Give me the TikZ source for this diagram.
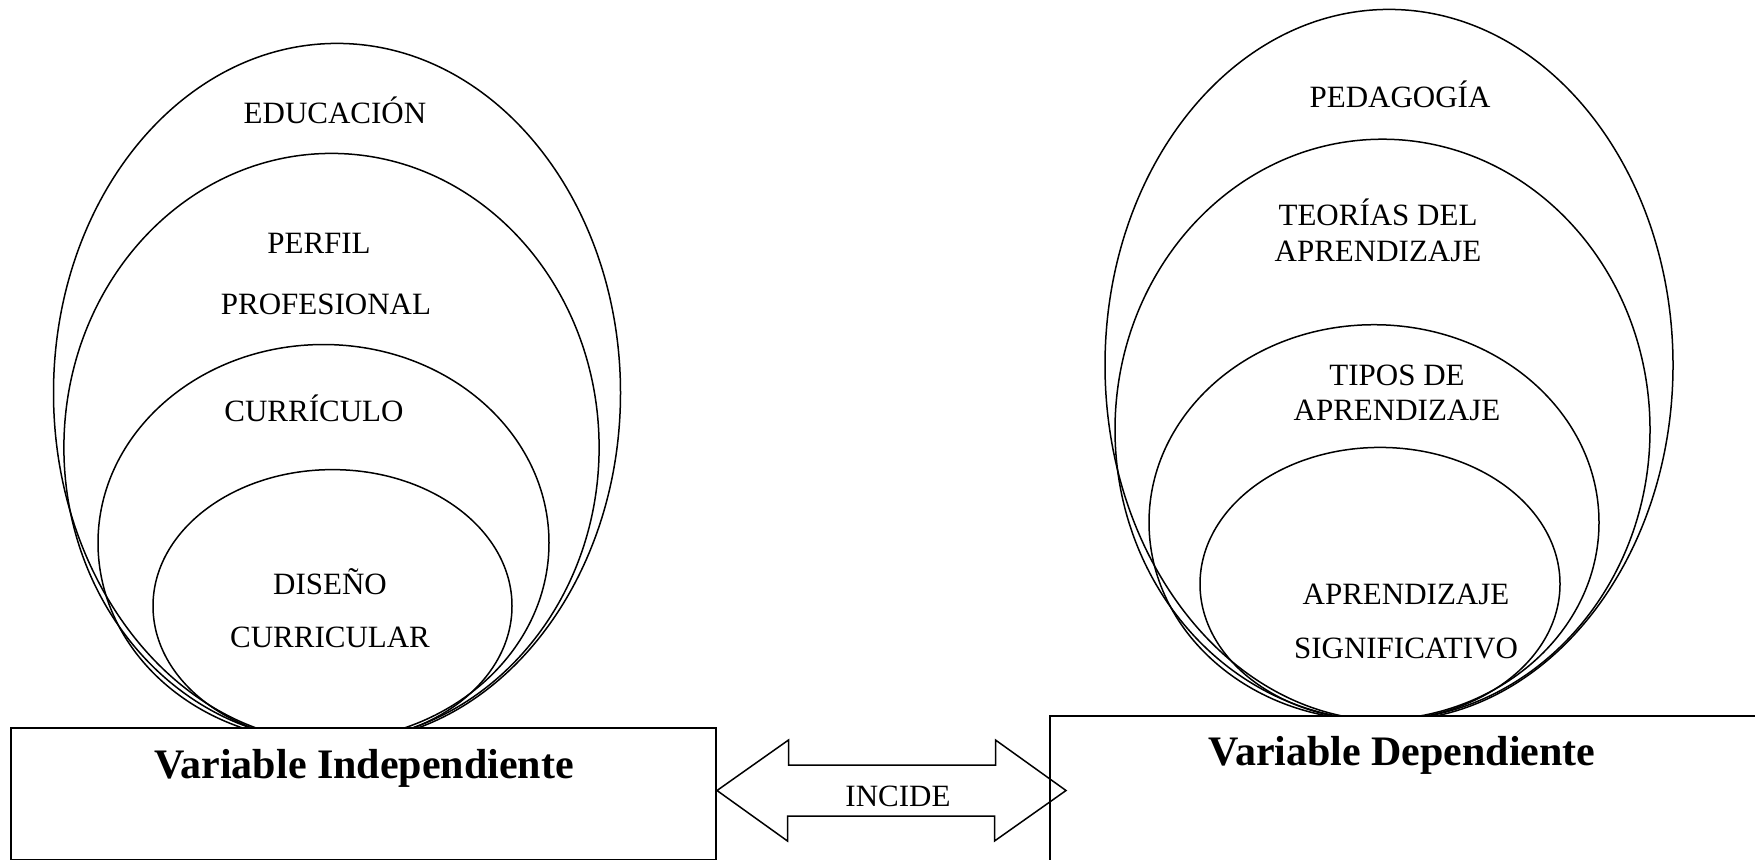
\documentclass[tikz,border=0pt]{standalone}
\usepackage{fontspec}
\setmainfont{Liberation Serif}

\tikzset{
  capa/.style={line width=0.75pt},
  lbl/.style={anchor=base, inner sep=0pt, font=\fontsize{15.5}{18}\selectfont},
  varbox/.style={draw, line width=1pt, fill=white, inner sep=0pt},
  varlbl/.style={anchor=base, inner sep=0pt, font=\fontsize{21}{24}\selectfont\bfseries},
}

\begin{document}
\begin{tikzpicture}[x=0.5pt, y=-0.5pt]
  \clip (0,0) rectangle (1755,859);
  \useasboundingbox (0,0) rectangle (1755,859);

  % nested layers, independent side
  \draw[capa] (337,392.9) ellipse [x radius=283.5, y radius=349.5];
  \draw[capa] (331.5,447.5) ellipse [x radius=267.6, y radius=294.1];
  \draw[capa] (323.5,542.8) ellipse [x radius=225.5, y radius=198.3];
  \draw[capa] (332.5,606) ellipse [x radius=179.5, y radius=136.4];
  \node[lbl] (edu) at (335,123.6) {EDUCACIÓN};
  \node[lbl] (perfil) at (319,253.9) {PERFIL};
  \node[lbl] (prof) at (326,314.8) {PROFESIONAL};
  \node[lbl] (curr) at (314,421.4) {CURRÍCULO};
  \node[lbl] (dis) at (330,594.6) {DISEÑO};
  \node[lbl] (discur) at (330,647) {CURRICULAR};

  % nested layers, dependent side
  \draw[capa] (1389,365.1) ellipse [x radius=284, y radius=355.7];
  \draw[capa] (1382.5,429.7) ellipse [x radius=267.5, y radius=290.5];
  \draw[capa] (1374,522.4) ellipse [x radius=225, y radius=197.7];
  \draw[capa] (1380,584) ellipse [x radius=180, y radius=136.6];
  \node[lbl] (ped) at (1400,107.1) {PEDAGOGÍA};
  \node[lbl] (teo) at (1378,225.1) {TEORÍAS DEL};
  \node[lbl] (teoapr) at (1378,261.9) {APRENDIZAJE};
  \node[lbl] (tip) at (1397,385.6) {TIPOS DE};
  \node[lbl] (tipapr) at (1397,420) {APRENDIZAJE};
  \node[lbl] (apr) at (1406,604) {APRENDIZAJE};
  \node[lbl] (sig) at (1406,658) {SIGNIFICATIVO};

  % variables
  \node[varbox, minimum width=352.5pt, minimum height=66pt] (ind) at (363.5,794) {};
  \node[varbox, minimum width=357.5pt, minimum height=75pt] (dep) at (1407.5,791) {};
  \node[varlbl] (indlbl) at (364,778) {Variable Independiente};
  \node[varlbl] (deplbl) at (1402,765) {Variable Dependiente};

  % double arrow between them
  \coordinate (lt) at (ind.east |- 0,790.5);
  \coordinate (rt) at (1066,790.5);
  \draw[capa] (lt) -- ++(71.5,-50.5) -- ++(0,25) -- ++(207,0) -- ++(0,-25)
    -- (rt) -- ++(-71.5,50.5) -- ++(0,-25) -- ++(-207,0) -- ++(0,25) -- cycle;
  \node[lbl] (inc) at (898,806) {INCIDE};
\end{tikzpicture}
\end{document}
